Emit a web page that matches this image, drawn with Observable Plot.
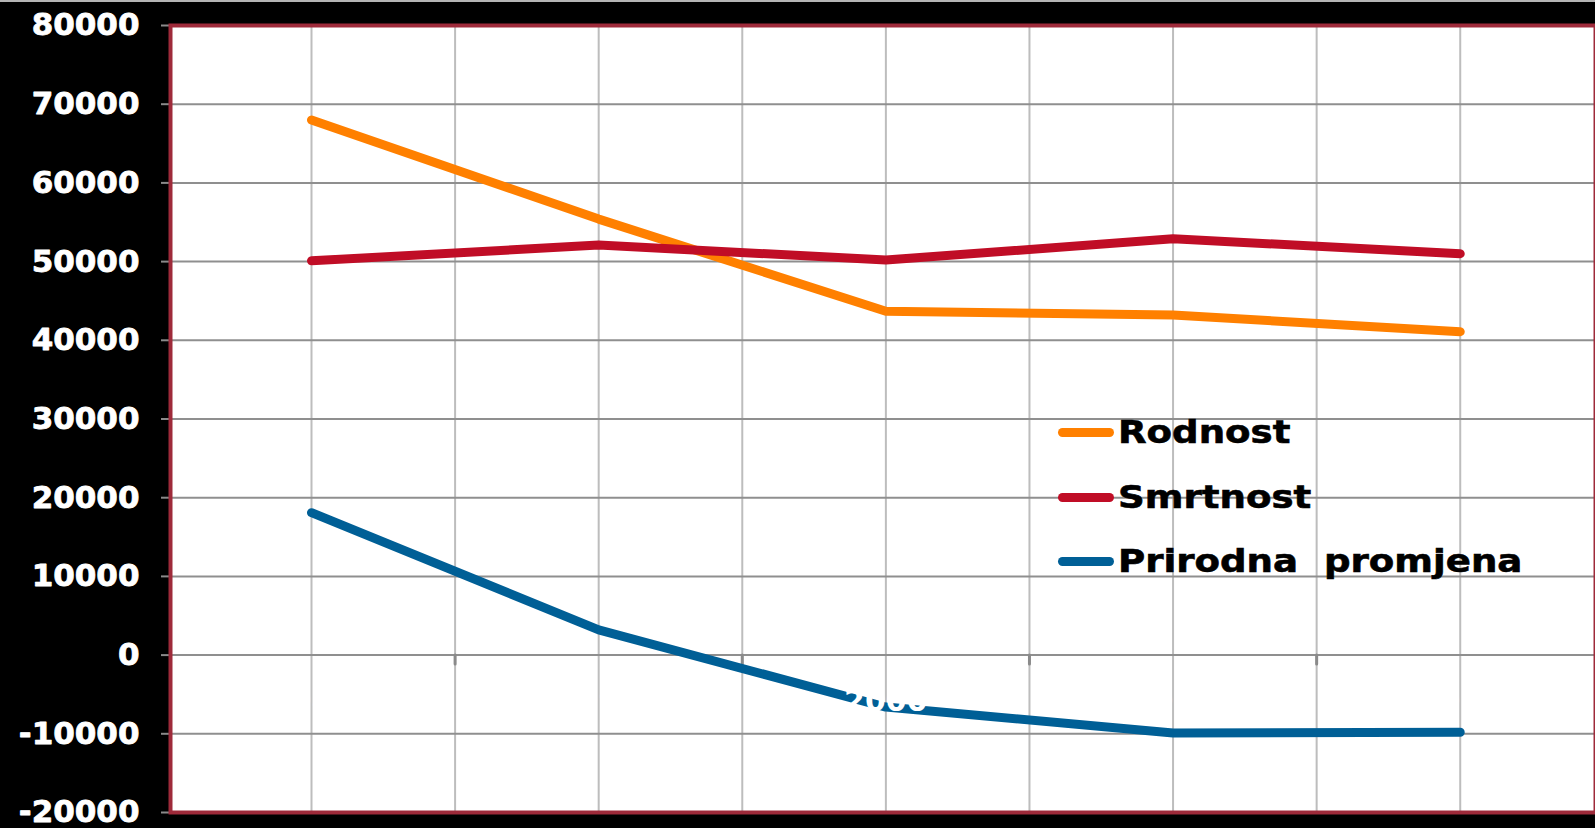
<!DOCTYPE html>
<html>
<head>
<meta charset="utf-8">
<script src="https://cdn.jsdelivr.net/npm/d3@7"></script>
<script src="https://cdn.jsdelivr.net/npm/@observablehq/plot@0.6"></script>
<style>
  html, body { margin: 0; padding: 0; background: #000; }
  #wrap { position: relative; width: 1595px; height: 828px; overflow: hidden; background: #000; }
  #topline { position: absolute; left: 0; top: 0; width: 1595px; height: 2px; background: #b4b4b4; }
  #legend { position: absolute; left: 1058px; top: 0; font-family: "DejaVu Sans", Verdana, sans-serif; font-weight: bold; font-size: 32px; color: #000; }
  .item { position: absolute; left: 0; display: flex; align-items: center; white-space: pre; transform: translateY(-50%); }
  .item span { display: inline-block; transform: scaleX(1.16); transform-origin: left center; -webkit-text-stroke: 0.6px #000; }
  .sw { width: 56px; height: 9px; border-radius: 4.5px; margin-right: 4px; }
</style>
</head>
<body>
<div id="wrap">
  <div id="chart"></div>
  <div id="topline"></div>
  <div id="legend"></div>
</div>
<script>
// Categories (x labels are drawn white, as in the original)
const years = ["1980", "1990", "2000", "2010", "2012"];
const series = ["Rodnost", "Smrtnost", "Prirodna  promjena"];
const colors = ["#FF8000", "#C00D26", "#005F96"];
const rodnost = [68000, 55400, 43700, 43200, 41100];
const smrtnost = [50100, 52100, 50200, 52900, 51000];
const prirodna = [18100, 3200, -6600, -9900, -9800];
const yTicks = [-20000, -10000, 0, 10000, 20000, 30000, 40000, 50000, 60000, 70000, 80000];

const values = [rodnost, smrtnost, prirodna];
const data = [];
series.forEach((s, k) => values[k].forEach((v, i) => data.push({series: s, i, value: v})));
const idx = years.map((_, i) => i);
const gridX = d3.range(0, years.length - 0.5, 0.5);
const halfTicks = d3.range(0.5, years.length - 1, 1);

const chart = Plot.plot({
  width: 1595,
  height: 828,
  marginLeft: 170,
  marginRight: 0,
  marginTop: 25,
  marginBottom: 16,
  style: {background: "#000", fontFamily: "DejaVu Sans, Verdana, sans-serif"},
  x: {domain: [-0.491, 4.471], axis: null},
  y: {domain: [-20000, 80000], axis: null},
  color: {domain: series, range: colors},
  marks: [
    Plot.frame({fill: "white"}),
    Plot.ruleX(gridX, {stroke: "#bdbdbd", strokeWidth: 2}),
    Plot.gridY(yTicks, {stroke: "#8f8f8f", strokeOpacity: 1, strokeWidth: 2}),
    Plot.vector(halfTicks, {
      x: d => d, y: () => 0, length: 9, rotate: 180, anchor: "start",
      stroke: "#8a8a8a", strokeWidth: 3,
      shape: {draw(ctx, l) { ctx.moveTo(0, 0); ctx.lineTo(0, -l); }}
    }),
    Plot.axisY(yTicks, {
      label: null,
      tickSize: 9, tickPadding: 22, stroke: "#8a8a8a", strokeWidth: 2,
      fill: "white", fontSize: 31, fontWeight: "bold",
      textStroke: "white", textStrokeWidth: 0.8,
      letterSpacing: "1.4px",
      tickFormat: d => String(d)
    }),
    Plot.frame({stroke: "#9E2A3A", strokeWidth: 4}),
    Plot.line(data, {
      x: "i", y: "value", z: "series", stroke: "series",
      strokeWidth: 9, strokeLinecap: "round", strokeLinejoin: "round"
    }),
    Plot.text(idx, {
      x: d => d, y: () => 0, text: d => years[d], dy: 46,
      fill: "white", fontSize: 30, fontWeight: "bold", letterSpacing: "1.5px"
    })
  ]
});
document.getElementById("chart").appendChild(chart);

const legend = document.getElementById("legend");
const rowY = [432, 497, 561];
series.forEach((s, k) => {
  const it = document.createElement("div");
  it.className = "item";
  it.style.top = rowY[k] + "px";
  const sw = document.createElement("div");
  sw.className = "sw";
  sw.style.background = colors[k];
  const tx = document.createElement("span");
  tx.textContent = s;
  it.appendChild(sw);
  it.appendChild(tx);
  legend.appendChild(it);
});
</script>
</body>
</html>
